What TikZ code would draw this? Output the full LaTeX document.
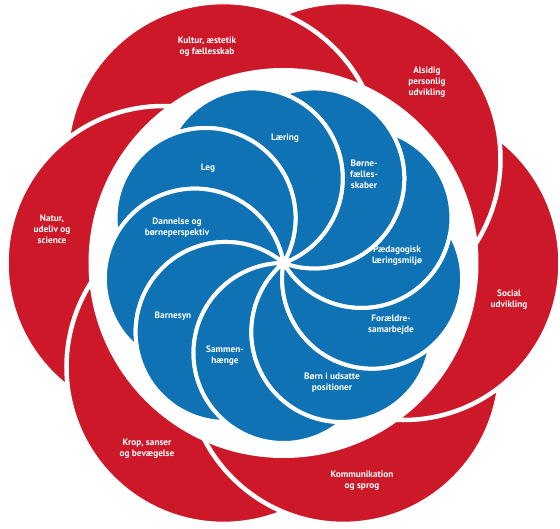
\documentclass[tikz,border=0pt]{standalone}
\usepackage{fontspec}
\setmainfont{PT Sans}
\definecolor{ringred}{RGB}{204,24,40}
\definecolor{petalblue}{RGB}{14,114,180}
\begin{document}
\begin{tikzpicture}[x=1pt,y=1pt,line join=round,
	ring/.style={fill=ringred,draw=white,line width=4.5pt},
	petal/.style={fill=petalblue,draw=white,line width=4pt},
	lab/.style={text=white,font=\bfseries\fontsize{9.3}{10.8}\selectfont,align=center,inner sep=0pt}]
		\useasboundingbox (-283.5,-265) rectangle (276.5,263);
		% outer ring: six overlapping areas
		\foreach \a in {-120,-60,...,180}
		\filldraw[ring] (\a:120) circle[radius=157pt];
		\begin{scope}
		\clip (0,0) -- (150:400) -- (195:400) -- (240:400) -- cycle;
		\filldraw[ring] (240:120) circle[radius=157pt];
		\end{scope}
		\fill[white] (0,0) circle[radius=195pt];
		% inner pinwheel
		\foreach \a in {30,70,...,350}
		\filldraw[petal] (0,0) arc[start angle=\a-180, end angle=\a+40, radius=90pt]
		arc[start angle=\a, end angle=\a-140, radius=90pt] -- cycle;
		\node[lab] (kultur) at (-76.5,216) {Kultur, æstetik\\og fællesskab};
		\node[lab] (alsidig) at (143.5,181) {Alsidig\\personlig\\udvikling};
		\node[lab] (social) at (225.5,-37) {Social\\udvikling};
		\node[lab] (kommunikation) at (78.5,-218) {Kommunikation\\og sprog};
		\node[lab] (krop) at (-136.5,-186) {Krop, sanser\\og bevægelse};
		\node[lab] (natur) at (-231.5,34) {Natur,\\udeliv og\\science};
		\node[lab] (laering) at (1.5,125) {Læring};
		\node[lab] (boernefaelles) at (80.5,89) {Børne-\\fælles-\\skaber};
		\node[lab] (paedagogisk) at (113.5,7) {Pædagogisk\\læringsmiljø};
		\node[lab] (foraeldre) at (107.5,-62) {Forældre-\\samarbejde};
		\node[lab] (udsatte) at (48.5,-120) {Børn i udsatte\\positioner};
		\node[lab] (sammen) at (-58.5,-93) {Sammen-\\hænge};
		\node[lab] (barnesyn) at (-110.5,-53) {Barnesyn};
		\node[lab] (dannelse) at (-106.5,35) {Dannelse og\\børneperspektiv};
		\node[lab] (leg) at (-75.5,95) {Leg};
\end{tikzpicture}
\end{document}
